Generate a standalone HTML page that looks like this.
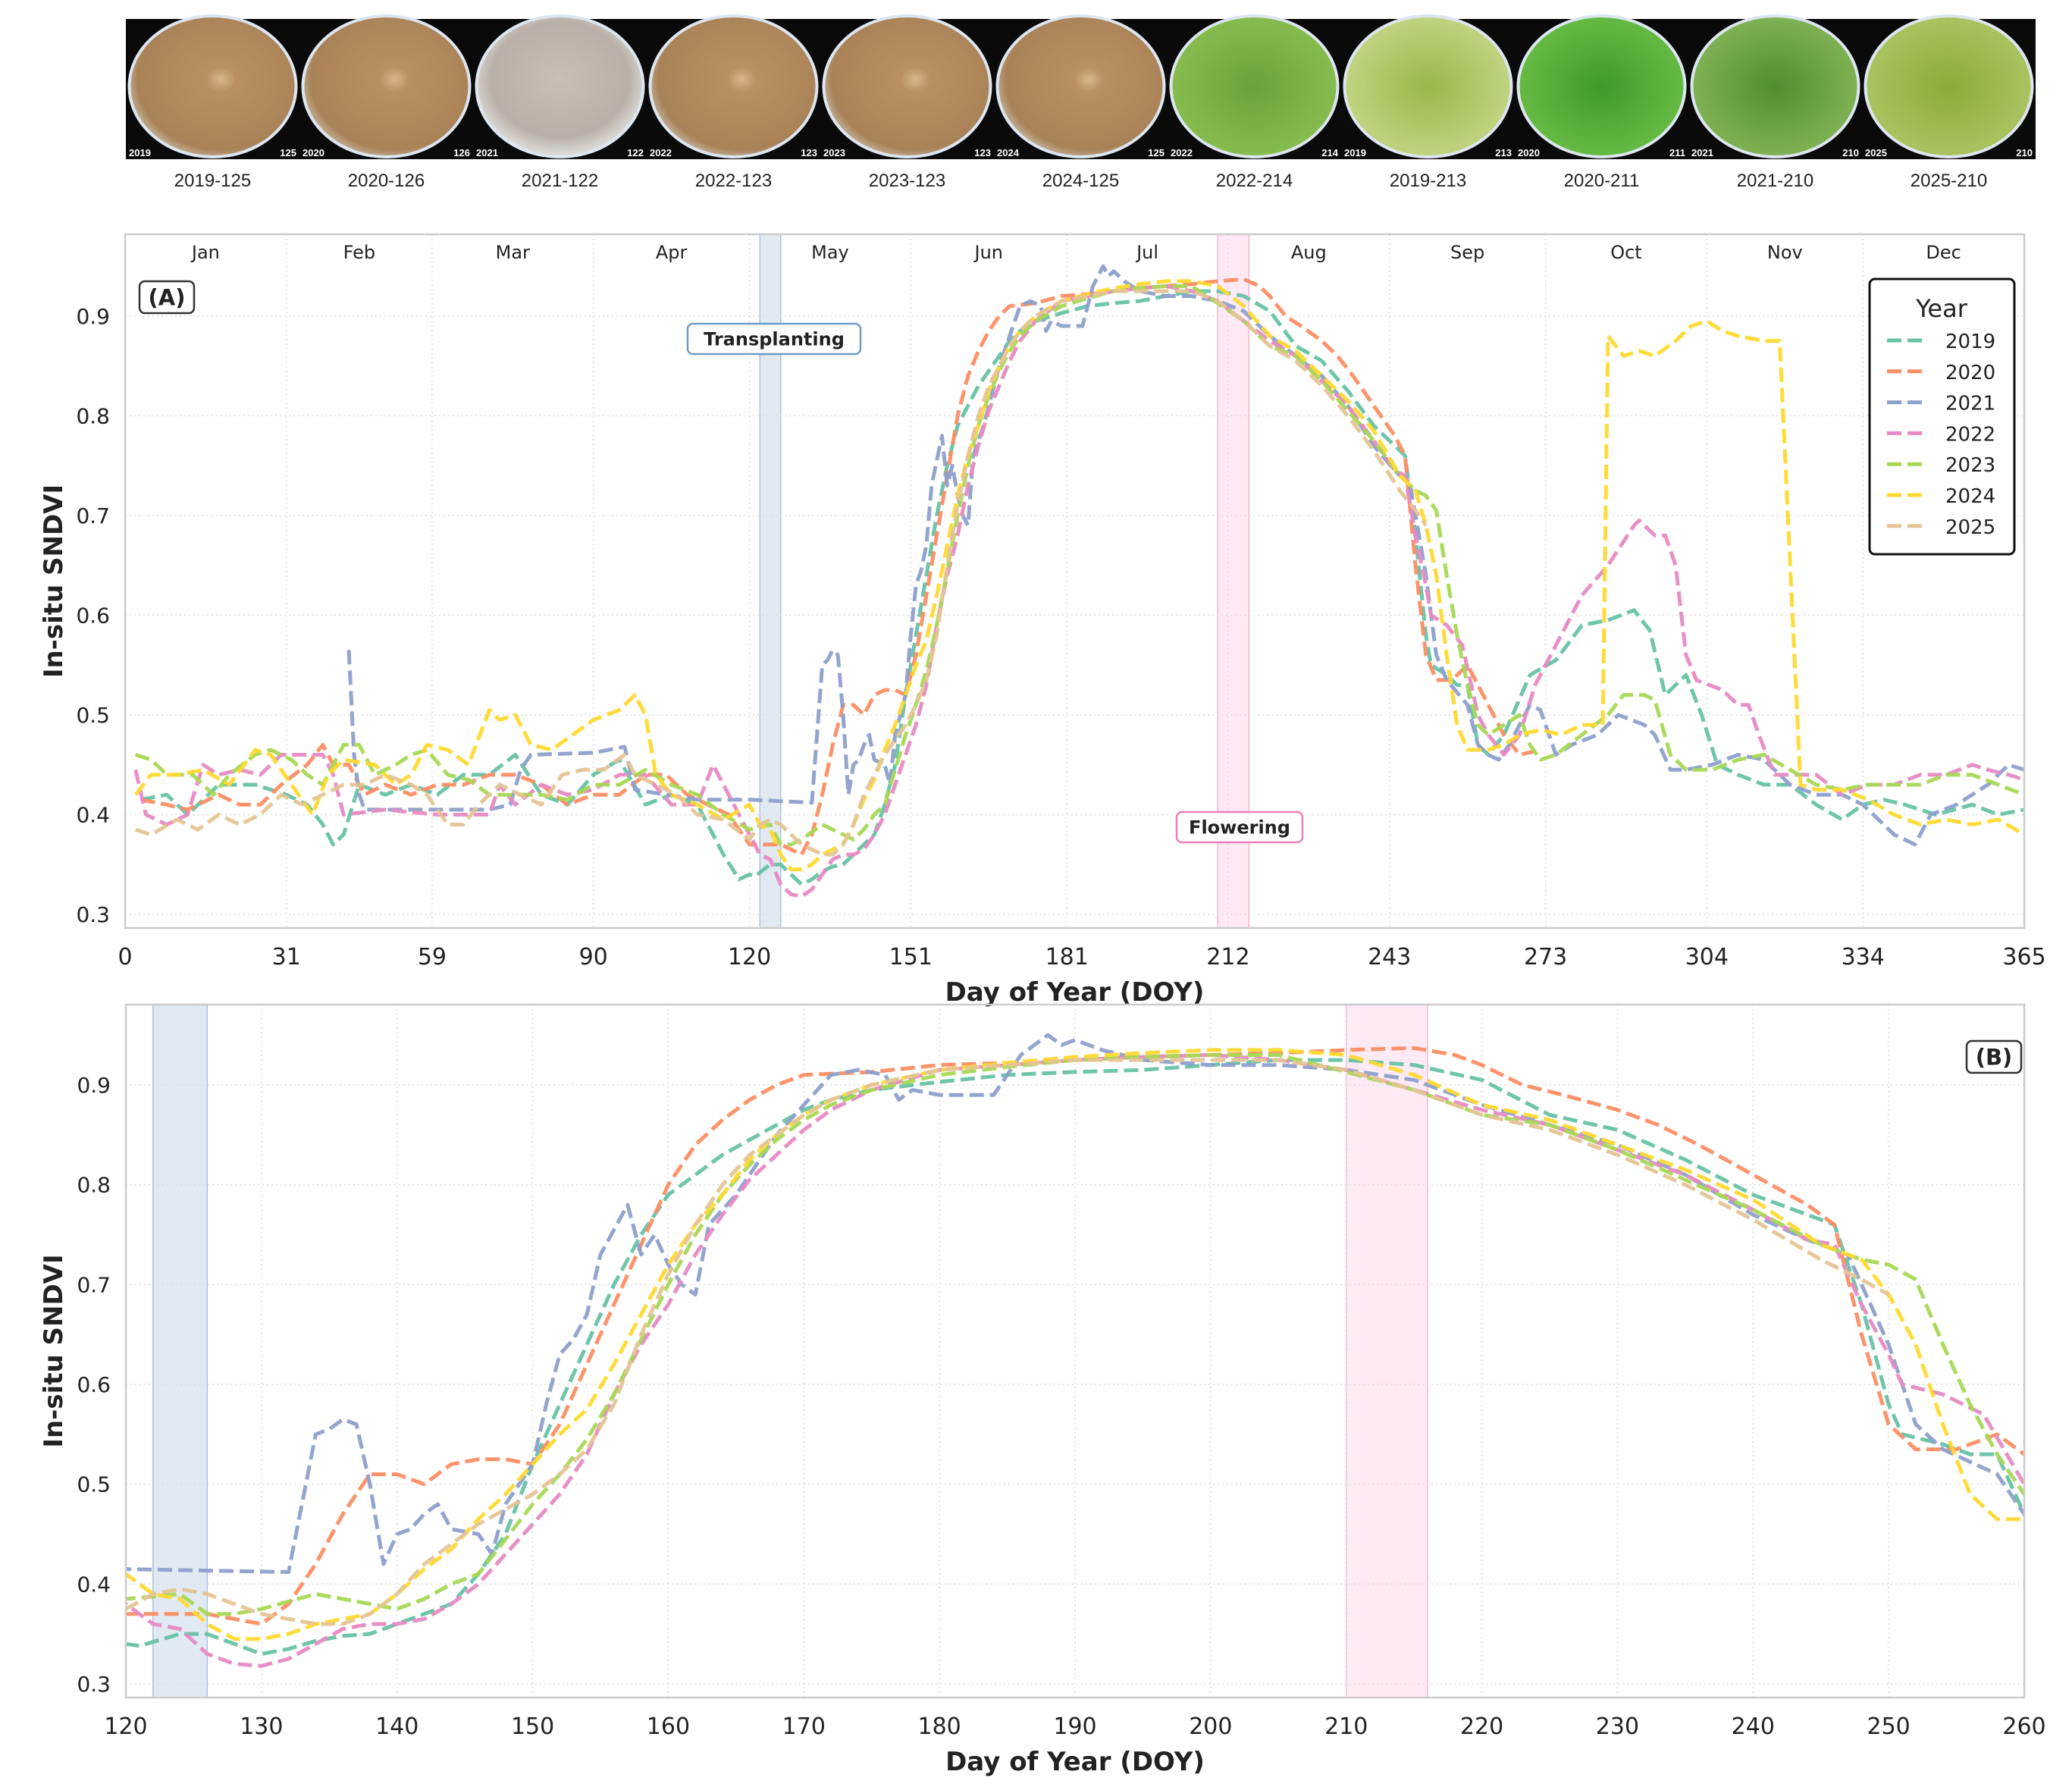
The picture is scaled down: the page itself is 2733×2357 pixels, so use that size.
<!DOCTYPE html>
<html><head><meta charset="utf-8"><style>
html,body{margin:0;padding:0;background:#fff}
svg{display:block;font-family:"DejaVu Sans","Liberation Sans",sans-serif}
</style></head><body>
<svg id="fig" width="2733" height="2357" viewBox="0 0 2733 2357" xmlns="http://www.w3.org/2000/svg">
<defs>
<radialGradient id="gBrown" cx="0.55" cy="0.45" r="0.6"><stop offset="0" stop-color="#d9b88c"/><stop offset="0.15" stop-color="#b99063"/><stop offset="0.85" stop-color="#a98257"/><stop offset="1" stop-color="#c9c0b0"/></radialGradient>
<radialGradient id="gGrey" cx="0.5" cy="0.45" r="0.6"><stop offset="0" stop-color="#c8c0b4"/><stop offset="0.7" stop-color="#b8b0a6"/><stop offset="1" stop-color="#eeeeee"/></radialGradient>
<radialGradient id="gGreen1" cx="0.5" cy="0.5" r="0.6"><stop offset="0" stop-color="#6aa13a"/><stop offset="1" stop-color="#8cc152"/></radialGradient>
<radialGradient id="gGreen2" cx="0.5" cy="0.5" r="0.6"><stop offset="0" stop-color="#98b84a"/><stop offset="1" stop-color="#c7d98a"/></radialGradient>
<radialGradient id="gGreen3" cx="0.5" cy="0.5" r="0.6"><stop offset="0" stop-color="#3f9a2a"/><stop offset="1" stop-color="#6cc048"/></radialGradient>
<radialGradient id="gGreen4" cx="0.5" cy="0.5" r="0.6"><stop offset="0" stop-color="#4f8e2e"/><stop offset="1" stop-color="#88b85a"/></radialGradient>
<radialGradient id="gGreen5" cx="0.5" cy="0.5" r="0.6"><stop offset="0" stop-color="#8aab38"/><stop offset="1" stop-color="#b0c868"/></radialGradient>
<clipPath id="clipA"><rect x="165" y="309" width="2505" height="915"/></clipPath>
<clipPath id="clipB"><rect x="166" y="1325" width="2504" height="914"/></clipPath>
</defs>
<g id="strip"></g>
<g id="panelA"></g>
<g id="panelB"></g>
</svg>
<script>
const years = ['2019','2020','2021','2022','2023','2024','2025'];
const doy2019 = [3,8,12,18,25,31,35,38,40,42,45,50,55,60,65,70,75,80,85,90,95,100,105,110,115,118,120,121,124,126,128,130,132,134,136,138,140,142,144,146,148,150,152,154,156,158,160,162,164,166,168,170,172,175,180,185,190,195,200,205,210,215,220,225,230,235,240,244,246,248,250,251,254,256,258,260,262,265,270,275,280,285,290,293,296,300,303,306,310,315,320,325,330,334,338,342,348,355,360,365];
const val2019 = [0.415,0.42,0.40,0.43,0.43,0.42,0.41,0.39,0.37,0.38,0.43,0.42,0.43,0.42,0.44,0.44,0.46,0.42,0.41,0.44,0.455,0.41,0.42,0.41,0.36,0.335,0.34,0.338,0.35,0.35,0.34,0.33,0.335,0.343,0.348,0.35,0.36,0.37,0.38,0.41,0.45,0.52,0.58,0.64,0.70,0.75,0.79,0.81,0.83,0.845,0.86,0.875,0.885,0.895,0.903,0.91,0.913,0.915,0.92,0.925,0.925,0.92,0.905,0.87,0.855,0.825,0.79,0.77,0.76,0.68,0.58,0.55,0.54,0.53,0.53,0.47,0.46,0.48,0.54,0.555,0.59,0.595,0.605,0.585,0.52,0.54,0.50,0.45,0.44,0.43,0.43,0.41,0.395,0.41,0.415,0.41,0.40,0.41,0.40,0.405];
const doy2020 = [3,8,12,18,22,26,30,35,38,40,43,46,50,55,60,65,70,75,80,85,90,95,100,104,108,112,116,120,123,126,130,132,134,136,138,140,142,144,146,148,150,152,154,156,158,160,162,164,166,168,170,175,180,185,190,195,200,205,210,215,218,220,223,226,230,233,236,240,244,246,248,250,252,255,258,260,262,265,268,272];
const val2020 = [0.415,0.41,0.405,0.42,0.41,0.41,0.43,0.45,0.47,0.45,0.45,0.42,0.43,0.42,0.43,0.43,0.44,0.44,0.43,0.41,0.42,0.42,0.44,0.44,0.42,0.41,0.40,0.37,0.37,0.37,0.36,0.38,0.42,0.47,0.51,0.51,0.50,0.52,0.525,0.525,0.52,0.56,0.62,0.68,0.74,0.80,0.84,0.865,0.885,0.90,0.91,0.913,0.92,0.922,0.925,0.928,0.93,0.932,0.935,0.937,0.93,0.92,0.90,0.89,0.875,0.86,0.84,0.81,0.78,0.76,0.65,0.56,0.535,0.535,0.55,0.53,0.51,0.48,0.46,0.465];
const doy2021 = [43,44,45,46,60,70,74,76,78,90,96,98,104,110,120,132,134,135,136,137,138,139,140,141,142,143,144,146,147,148,150,151,152,153,154,155,156,157,158,159,160,161,162,163,165,168,170,172,174,176,177,178,180,182,184,186,188,189,190,192,195,200,205,210,215,220,225,230,235,240,244,247,250,252,254,258,260,262,264,266,270,272,275,278,283,287,292,294,297,300,305,310,315,320,325,330,334,338,340,344,347,352,358,362,365];
const val2021 = [0.565,0.46,0.42,0.405,0.405,0.405,0.41,0.445,0.46,0.462,0.468,0.425,0.42,0.415,0.415,0.412,0.55,0.555,0.565,0.56,0.50,0.42,0.45,0.455,0.47,0.48,0.455,0.45,0.43,0.48,0.52,0.58,0.63,0.645,0.67,0.73,0.755,0.78,0.73,0.75,0.72,0.70,0.69,0.76,0.79,0.85,0.88,0.91,0.915,0.91,0.885,0.895,0.89,0.89,0.89,0.93,0.95,0.94,0.945,0.935,0.925,0.92,0.92,0.915,0.905,0.88,0.86,0.84,0.81,0.77,0.745,0.73,0.64,0.56,0.535,0.51,0.47,0.46,0.455,0.47,0.51,0.505,0.46,0.47,0.48,0.50,0.49,0.48,0.445,0.445,0.45,0.46,0.455,0.43,0.42,0.42,0.41,0.39,0.38,0.37,0.40,0.41,0.43,0.45,0.445];
const doy2022 = [2,4,8,12,15,18,22,26,30,34,38,40,42,50,60,70,72,75,80,85,90,95,100,105,110,113,116,120,122,124,126,128,130,132,134,136,138,140,142,144,146,148,150,152,154,156,158,160,162,164,166,168,170,172,175,180,185,190,195,200,205,210,215,220,225,230,235,240,244,246,248,250,251,254,257,260,262,265,268,271,275,280,285,290,291,294,296,298,300,302,307,310,312,314,317,320,325,330,335,340,345,350,355,358,362,365];
const val2022 = [0.445,0.40,0.39,0.40,0.45,0.44,0.445,0.44,0.46,0.46,0.46,0.44,0.40,0.405,0.40,0.40,0.43,0.41,0.43,0.42,0.425,0.44,0.44,0.41,0.41,0.45,0.42,0.38,0.36,0.355,0.33,0.32,0.318,0.325,0.34,0.355,0.36,0.36,0.365,0.38,0.40,0.43,0.46,0.49,0.53,0.59,0.64,0.68,0.73,0.77,0.805,0.83,0.855,0.875,0.895,0.915,0.92,0.925,0.928,0.93,0.925,0.915,0.895,0.875,0.86,0.835,0.81,0.775,0.745,0.74,0.68,0.63,0.60,0.59,0.57,0.50,0.48,0.46,0.48,0.53,0.57,0.62,0.65,0.69,0.695,0.68,0.68,0.65,0.56,0.535,0.525,0.51,0.51,0.48,0.44,0.44,0.44,0.42,0.43,0.43,0.44,0.44,0.45,0.445,0.44,0.435];
const doy2023 = [2,5,8,13,17,20,25,28,32,35,38,42,45,48,52,55,58,62,66,70,75,80,85,90,95,100,105,110,115,120,124,126,128,130,134,136,138,140,142,144,146,148,150,152,154,156,158,160,162,164,166,168,170,172,175,180,185,190,195,200,205,210,215,220,225,230,235,240,245,248,250,252,254,256,258,260,262,265,268,270,272,275,280,285,288,292,294,297,300,305,310,315,320,325,330,335,340,345,350,355,360,365];
const val2023 = [0.46,0.455,0.44,0.44,0.42,0.44,0.46,0.465,0.455,0.44,0.43,0.47,0.47,0.44,0.45,0.46,0.465,0.44,0.435,0.42,0.42,0.42,0.415,0.43,0.43,0.445,0.43,0.42,0.40,0.385,0.39,0.37,0.37,0.375,0.39,0.385,0.38,0.375,0.385,0.40,0.41,0.445,0.48,0.51,0.545,0.59,0.645,0.70,0.75,0.79,0.82,0.845,0.865,0.88,0.895,0.91,0.918,0.925,0.928,0.93,0.93,0.913,0.895,0.87,0.86,0.835,0.805,0.775,0.74,0.725,0.72,0.705,0.64,0.58,0.53,0.49,0.48,0.49,0.50,0.47,0.455,0.46,0.48,0.50,0.52,0.52,0.515,0.46,0.445,0.445,0.455,0.46,0.445,0.43,0.425,0.43,0.43,0.43,0.44,0.44,0.43,0.42];
const doy2024 = [2,5,10,15,20,25,28,32,36,39,42,48,52,55,58,62,66,70,72,75,78,82,86,90,95,98,100,102,105,110,115,120,122,124,126,128,130,132,134,136,138,140,142,144,146,148,150,152,154,156,158,160,162,164,166,168,170,172,175,180,185,190,195,200,205,210,215,220,225,230,235,240,245,248,250,252,254,256,258,260,262,265,268,272,276,280,284,285,288,291,294,298,301,304,307,310,315,318,322,325,330,335,340,345,350,355,360,365];
const val2024 = [0.42,0.44,0.44,0.445,0.43,0.465,0.46,0.43,0.40,0.44,0.455,0.45,0.43,0.44,0.47,0.465,0.45,0.505,0.495,0.50,0.47,0.465,0.48,0.495,0.505,0.52,0.50,0.44,0.42,0.41,0.395,0.41,0.39,0.385,0.36,0.345,0.345,0.35,0.36,0.365,0.37,0.39,0.415,0.435,0.465,0.49,0.52,0.55,0.575,0.62,0.67,0.72,0.76,0.79,0.825,0.85,0.87,0.885,0.90,0.915,0.922,0.928,0.932,0.935,0.935,0.93,0.91,0.88,0.865,0.84,0.815,0.785,0.74,0.725,0.69,0.64,0.56,0.49,0.465,0.465,0.465,0.47,0.48,0.485,0.48,0.49,0.49,0.88,0.86,0.865,0.86,0.875,0.89,0.895,0.885,0.88,0.875,0.875,0.43,0.425,0.425,0.415,0.40,0.39,0.395,0.39,0.395,0.38];
const doy2025 = [2,5,10,14,18,22,26,30,34,38,42,46,50,55,58,62,65,68,72,76,80,84,88,92,96,98,102,106,110,115,120,122,124,126,128,130,134,136,138,140,142,144,146,148,150,152,154,156,158,160,162,164,166,168,170,172,175,180,185,190,195,200,205,210,215,220,225,230,235,240,245,248,250];
const val2025 = [0.385,0.38,0.395,0.385,0.40,0.39,0.40,0.42,0.41,0.42,0.43,0.43,0.44,0.43,0.42,0.39,0.39,0.41,0.43,0.42,0.41,0.44,0.445,0.445,0.46,0.44,0.43,0.42,0.40,0.395,0.375,0.39,0.395,0.39,0.38,0.37,0.36,0.36,0.37,0.39,0.42,0.44,0.46,0.475,0.49,0.51,0.535,0.58,0.65,0.71,0.76,0.80,0.83,0.85,0.87,0.885,0.90,0.915,0.92,0.925,0.925,0.925,0.925,0.915,0.895,0.87,0.855,0.83,0.80,0.765,0.725,0.705,0.69];
const colors = ['#66c2a5','#fc8d62','#8da0cb','#e78ac3','#a6d854','#ffd92f','#e5c494'];
const seriesDoy = [doy2019,doy2020,doy2021,doy2022,doy2023,doy2024,doy2025];
const seriesVal = [val2019,val2020,val2021,val2022,val2023,val2024,val2025];
const yTicks = [0.3,0.4,0.5,0.6,0.7,0.8,0.9];
const xTicksA = [0,31,59,90,120,151,181,212,243,273,304,334,365];
const xTicksB = [120,130,140,150,160,170,180,190,200,210,220,230,240,250,260];
const months = ['Jan','Feb','Mar','Apr','May','Jun','Jul','Aug','Sep','Oct','Nov','Dec'];
const photoLabels = ['2019-125','2020-126','2021-122','2022-123','2023-123','2024-125','2022-214','2019-213','2020-211','2021-210','2025-210'];
const transplant = [122,126];
const flowering = [210,216];

const NS='http://www.w3.org/2000/svg';
function mk(tag, attrs, parent){const e=document.createElementNS(NS,tag);for(const k in attrs)e.setAttribute(k,attrs[k]);if(parent)parent.appendChild(e);return e;}

const strip=document.getElementById('strip');
const fills=['gBrown','gBrown','gGrey','gBrown','gBrown','gBrown','gGreen1','gGreen2','gGreen3','gGreen4','gGreen5'];
photoLabels.forEach((lab,i)=>{
  const x0=166+i*229;
  const g=mk('g',{},strip);
  
  
  mk('rect',{x:x0,y:25,width:229,height:185,fill:'#0a0a0a'},g);
  mk('ellipse',{cx:x0+114.5,cy:114,rx:112,ry:95,fill:'#dde6f0'},g);
  mk('ellipse',{cx:x0+114.5,cy:114,rx:108,ry:91,fill:'url(#'+fills[i]+')'},g);
  const p=lab.split('-');
  const t1=mk('text',{x:x0+4,y:206,'font-size':13,'font-weight':'bold',fill:'#fff','font-family':'Liberation Sans'},g);t1.textContent=p[0];
  const t2=mk('text',{x:x0+225,y:206,'font-size':13,'font-weight':'bold',fill:'#fff','text-anchor':'end','font-family':'Liberation Sans'},g);t2.textContent=p[1];
  const t=mk('text',{x:x0+114.5,y:246,'font-size':24,fill:'#222','text-anchor':'middle','font-family':'Liberation Sans'},strip);
  
  
  t.textContent=lab;
});

function drawPanel(root, cfg){
  const {L,R,T,B,x0,x1,y0,y1,xt,clip}=cfg;
  const sx=v=>L+(v-x0)/(x1-x0)*(R-L);
  const sy=v=>B-(v-y0)/(y1-y0)*(B-T);
  [[transplant,'#c9d9e8','#a9c3dc','transplanting-band'],[flowering,'#fdd8ec','#f5b5d6','flowering-band']].forEach(b=>{
    const r=mk('rect',{x:sx(b[0][0]),y:T,width:sx(b[0][1])-sx(b[0][0]),height:B-T,fill:b[1],'fill-opacity':0.55,stroke:b[2],'stroke-width':1.5,'clip-path':'url(#'+clip+')'},root);
    
    
  });
  yTicks.forEach(v=>{mk('line',{x1:L,x2:R,y1:sy(v),y2:sy(v),stroke:'#dcdcdc','stroke-width':1.5,'stroke-dasharray':'2 4'},root);});
  xt.forEach(v=>{mk('line',{x1:sx(v),x2:sx(v),y1:T,y2:B,stroke:'#dcdcdc','stroke-width':1.5,'stroke-dasharray':'2 4'},root);});
  seriesDoy.forEach((ds,i)=>{
    let d='';
    ds.forEach((x,j)=>{d+=(j?'L':'M')+sx(x).toFixed(1)+','+sy(seriesVal[i][j]).toFixed(1);});
    const p=mk('path',{d:d,fill:'none',stroke:colors[i],'stroke-width':5,'stroke-dasharray':'19 8','stroke-linejoin':'round','stroke-opacity':0.95,'clip-path':'url(#'+clip+')'},root);
    
    
  });
  const fr=mk('rect',{x:L,y:T,width:R-L,height:B-T,fill:'none',stroke:'#cccccc','stroke-width':2.5},root);
  
  
  yTicks.forEach(v=>{const t=mk('text',{x:L-20,y:sy(v)+10,'font-size':28,fill:'#222','text-anchor':'end'},root);
    
    
    t.textContent=v.toFixed(1);});
  xt.forEach(v=>{const t=mk('text',{x:sx(v),y:B+48,'font-size':30,fill:'#222','text-anchor':'middle'},root);
    
    
    t.textContent=v;});
  const xl=mk('text',{x:(L+R)/2,y:B+96,'font-size':34,'font-weight':'bold',fill:'#222','text-anchor':'middle'},root);
  
  
  xl.textContent='Day of Year (DOY)';
  const cy=(T+B)/2;
  const yl=mk('text',{x:82,y:cy,'font-size':34,'font-weight':'bold',fill:'#222','text-anchor':'middle',transform:'rotate(-90 82 '+cy+')'},root);
  
  
  yl.textContent='In-situ SNDVI';
  return {sx,sy};
}

const A=document.getElementById('panelA');
const a=drawPanel(A,{L:165,R:2670,T:309,B:1224,x0:0,x1:365,y0:0.2863,y1:0.982,xt:xTicksA,clip:'clipA'});
months.forEach((m,i)=>{
  const mid=(xTicksA[i]+xTicksA[i+1])/2;
  const t=mk('text',{x:a.sx(mid),y:341,'font-size':24,fill:'#222','text-anchor':'middle'},A);
  
  
  t.textContent=m;
});
function badge(root,cx,cy,w,h,txt,stroke,name,fs){
  const g=mk('g',{},root);
  
  
  mk('rect',{x:cx-w/2,y:cy-h/2,width:w,height:h,rx:7,fill:'#fff','fill-opacity':0.9,stroke:stroke,'stroke-width':2.5},g);
  const t=mk('text',{x:cx,y:cy+fs*0.36,'font-size':fs,'font-weight':'bold',fill:'#222','text-anchor':'middle'},g);t.textContent=txt;
}
badge(A,220,392,72,42,'(A)','#333','panel-a-label',29);
badge(A,1021,447,228,40,'Transplanting','#6f9cc5','transplanting-annotation',24);
badge(A,1635,1091,166,40,'Flowering','#f080b8','flowering-annotation',24);
const lg=mk('g',{},A);


mk('rect',{x:2466,y:368,width:191,height:363,rx:7,fill:'#fff',stroke:'#111','stroke-width':3},lg);
const lt=mk('text',{x:2561,y:418,'font-size':32,fill:'#222','text-anchor':'middle'},lg);lt.textContent='Year';
years.forEach((y,i)=>{
  const yy=449+i*40.8;
  const e=mk('g',{},lg);
  
  
  mk('line',{x1:2489,x2:2543,y1:yy,y2:yy,stroke:colors[i],'stroke-width':5,'stroke-dasharray':'19 8'},e);
  const t=mk('text',{x:2566,y:yy+10,'font-size':26,fill:'#222'},e);t.textContent=y;
});

const Bp=document.getElementById('panelB');
drawPanel(Bp,{L:166,R:2670,T:1325,B:2239,x0:120,x1:260,y0:0.2863,y1:0.9805,xt:xTicksB,clip:'clipB'});
badge(Bp,2630,1394,72,42,'(B)','#333','panel-b-label',29);
</script>
</body></html>
